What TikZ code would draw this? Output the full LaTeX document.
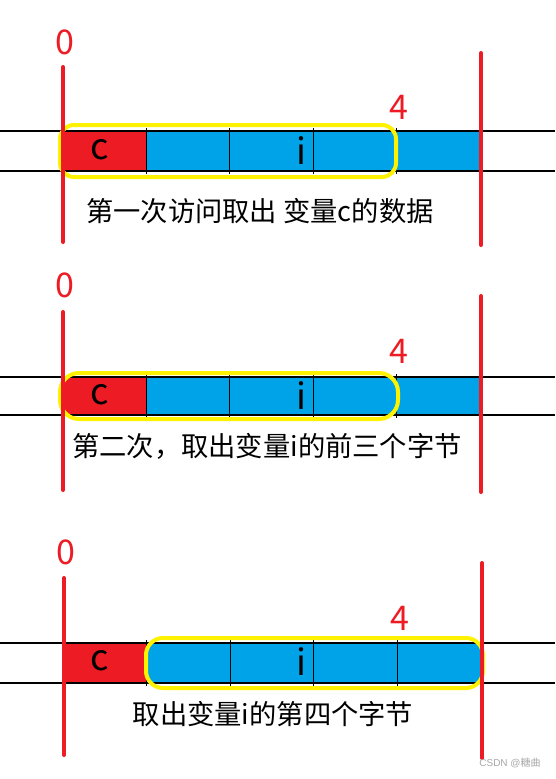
\documentclass[tikz,border=0pt]{standalone}
\usepackage{fontspec}
\setmainfont{Noto Sans CJK SC}
\newfontfamily\wmfont{Liberation Sans}
\definecolor{pred}{HTML}{ED1C24}
\definecolor{pblue}{HTML}{00A2E8}
\definecolor{pyel}{HTML}{FFF200}
\definecolor{wmgray}{HTML}{A8A8A8}
\tikzset{
  redline/.style={draw=pred,line width=4pt,line cap=round},
  hline/.style={draw=black,line width=1.6pt},
  divider/.style={draw=black,line width=0.8pt},
  yelbox/.style={draw=pyel,line width=4pt},
  numlbl/.style={text=pred,font=\fontsize{34}{36}\selectfont,inner sep=0pt},
  varlbl/.style={text=black,font=\fontsize{36}{38}\selectfont,inner sep=0pt},
  caplbl/.style={text=black,font=\fontsize{27.3}{30}\selectfont,inner sep=0pt},
}
\begin{document}
\begin{tikzpicture}[x=1pt,y=-1pt]
\useasboundingbox (0,0) rectangle (555,779);
\fill[white] (0,0) rectangle (555,779);

% ---------- Panel 1 ----------
\fill[pred] (62,131) rectangle (146,171);
\fill[pblue] (146,131) rectangle (479,171);
\foreach \xx in {146,229,313,396,479} \draw[divider] (\xx,128) -- (\xx,174);
\draw[hline] (0,131) -- (555,131);
\draw[hline] (0,171) -- (555,171);
\draw[yelbox,rounded corners=14pt] (60,125) rectangle (396,177);
\draw[redline] (63,67) -- (63,242);
\draw[redline] (481,53) -- (481,245);
\node[numlbl] (zeroA) at (65,42) {0};
\node[numlbl] (fourA) at (399,107) {4};
\node[varlbl] (cA) at (100,150) {c};
\node[varlbl] (iA) at (301,151) {i};
\node[caplbl] (capA) at (260,211) {第一次访问取出 变量c的数据};

% ---------- Panel 2 ----------
\fill[pred] (62,377) rectangle (146,415);
\fill[pblue] (146,377) rectangle (479,415);
\foreach \xx in {146,229,313,396,479} \draw[divider] (\xx,374) -- (\xx,418);
\draw[hline] (0,377) -- (555,377);
\draw[hline] (0,415) -- (555,415);
\draw[yelbox,rounded corners=19pt] (60,373) rectangle (398,419);
\draw[redline] (63,312) -- (63,490);
\draw[redline] (481,296) -- (481,492);
\node[numlbl] (zeroB) at (65,285) {0};
\node[numlbl] (fourB) at (399,351) {4};
\node[varlbl] (cB) at (100,395) {c};
\node[varlbl] (iB) at (301,396) {i};
\node[caplbl] (capB) at (267,446) {第二次，取出变量i的前三个字节};

% ---------- Panel 3 ----------
\fill[pred] (64,643) rectangle (146,683);
\fill[pblue] (146,643) rectangle (481,683);
\foreach \xx in {146,230,313,397,481} \draw[divider] (\xx,640) -- (\xx,686);
\draw[hline] (0,643) -- (555,643);
\draw[hline] (0,683) -- (555,683);
\draw[yelbox,rounded corners=17pt] (146,638) rectangle (483,688);
\draw[redline] (64,578) -- (64,755);
\draw[redline] (482,563) -- (482,758);
\node[numlbl] (zeroC) at (66,552) {0};
\node[numlbl] (fourC) at (400,618) {4};
\node[varlbl] (cC) at (100,661) {c};
\node[varlbl] (iC) at (301,662) {i};
\node[caplbl] (capC) at (273,714) {取出变量i的第四个字节};

% watermark
\node[text=wmgray,font=\fontsize{10}{12}\selectfont,inner sep=0pt] (wm) at (510,763) {{\wmfont CSDN @}糖曲};
\end{tikzpicture}
\end{document}
